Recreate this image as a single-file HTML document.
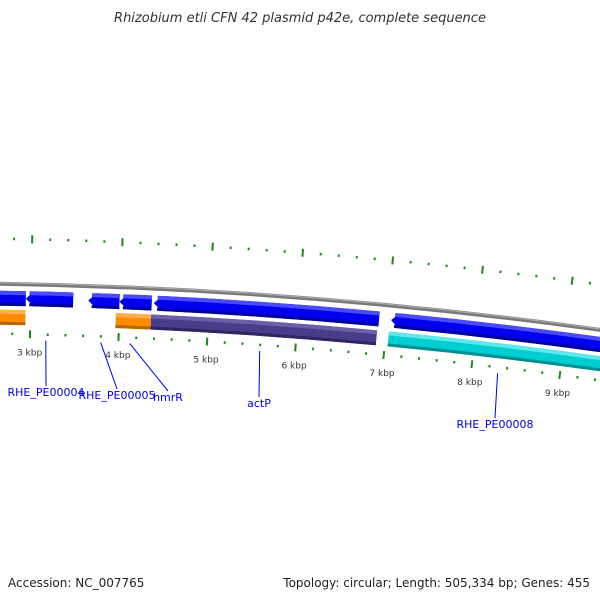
<!DOCTYPE html>
<html><head><meta charset="utf-8">
<style>
html,body{margin:0;padding:0;background:#fff;}
svg{display:block;font-family:"DejaVu Sans","Liberation Sans",sans-serif;}
</style></head>
<body>
<svg id="map" width="600" height="600" viewBox="0 0 600 600">
  <text x="300" y="22" text-anchor="middle" font-size="13" font-style="italic" fill="#333">Rhizobium etli CFN 42 plasmid p42e, complete sequence</text>
  <g id="ticks"></g>
  <g id="backbone"></g>
  <g id="genes"></g>
  <g id="labels"></g>
  <text x="8" y="587" font-size="12" fill="#222">Accession: NC_007765</text>
  <text x="590" y="587" font-size="12" fill="#222" text-anchor="end">Topology: circular; Length: 505,334 bp; Genes: 455</text>
</svg>
<script>
// data
const geneStarts = [2500, 2944, 3644, 3994, 4379, 7045, 2500, 3960, 4356, 7034];
const geneEnds   = [2944, 3475, 3994, 4356, 6910, 9800, 2944, 4356, 6900, 9800];
const geneTracks = [0,0,0,0,0,0,1,1,1,1];
const geneColors = ["blue","blue","blue","blue","blue","blue","orange","orange","purple","cyan"];
const kbpLabels = [3,4,5,6,7,8,9];
const labelNames = ["RHE_PE00004","RHE_PE00005","hmrR","actP","RHE_PE00008"];
const labelBp = [3180, 3800, 4130, 5600, 8300];
const labelTextPos = [[46,396],[117,399],[168,401],[259,407],[495,428]];

const NS="http://www.w3.org/2000/svg";
const cx=-83, cy=5283;
const th3=Math.asin(113/4950), kPer=0.0179/1000;
function ang(bp){return th3+(bp-3000)*kPer;}
function pt(r,bp){const t=ang(bp);return [cx+r*Math.sin(t), cy-r*Math.cos(t)];}
function mk(tag,attrs,parent){const e=document.createElementNS(NS,tag);for(const k in attrs)e.setAttribute(k,attrs[k]);parent.appendChild(e);return e;}

// backbone
const bb=document.getElementById('backbone');
function arcD(r,b1,b2){const a=pt(r,b1),b=pt(r,b2);return `M${a[0]},${a[1]} A${r},${r} 0 0 1 ${b[0]},${b[1]}`;}
const bl=mk('path',{d:arcD(5000,2300,10200),stroke:'#7a7a7a','stroke-width':4,fill:'none'},bb);


const bl2=mk('path',{d:arcD(5001,2300,10200),stroke:'#b0b0b0','stroke-width':1,fill:'none'},bb);



// ticks
const tg=document.getElementById('ticks');
for(let bp=2000;bp<=10400;bp+=200){
  const major=(bp%1000===0);
  [[4950,-1],[5045,1]].forEach(([r,dir])=>{
    const len=major?8:2.5;
    const a=pt(r-len/2,bp),b=pt(r+len/2,bp);
    const l=mk('line',{x1:a[0],y1:a[1],x2:b[0],y2:b[1],stroke:'#1a8a1a','stroke-width':major?2:2},tg);
    
    
  });
}
kbpLabels.forEach(k=>{
  const p=pt(4932,k*1000);
  const t=mk('text',{x:p[0],y:p[1]+3,'font-size':9,fill:'#333','text-anchor':'middle'},tg);
  t.textContent=k+' kbp';
  
  
});

// genes
const palette={blue:['#0000ee','#4a4aff','#00009a'],orange:['#ff8c00','#ffae50','#b86400'],purple:['#483d8b','#6a60a8','#2e2660'],cyan:['#00ced1','#5ee8ea','#008f91']};
const trackR=[[4978,4993],[4959,4974]];
const gg=document.getElementById('genes');
function genePath(r1,r2,b1,b2,arrow){
  const head=arrow?90:0;
  const rm=(r1+r2)/2;
  const s=b1+head;
  const o1=pt(r2,s),o2=pt(r2,b2),i2=pt(r1,b2),i1=pt(r1,s),tip=pt(rm,b1);
  let d=`M${o1[0]},${o1[1]} A${r2},${r2} 0 0 1 ${o2[0]},${o2[1]} L${i2[0]},${i2[1]} A${r1},${r1} 0 0 0 ${i1[0]},${i1[1]}`;
  if(arrow) d+=` L${tip[0]},${tip[1]}`;
  return d+' Z';
}
for(let i=0;i<geneStarts.length;i++){
  const [r1,r2]=trackR[geneTracks[i]];
  const c=palette[geneColors[i]];
  const arrow=geneTracks[i]===0;
  const p=mk('path',{d:genePath(r1,r2,geneStarts[i],geneEnds[i],arrow),fill:c[0]},gg);
  
  
  const h=mk('path',{d:genePath(r2-4,r2,geneStarts[i]+(arrow?40:0),geneEnds[i],false),fill:c[1]},gg);
  
  
  const s=mk('path',{d:genePath(r1,r1+3,geneStarts[i]+(arrow?40:0),geneEnds[i],false),fill:c[2]},gg);
  
  
}

// labels
const lg=document.getElementById('labels');
labelNames.forEach((n,i)=>{
  const a=pt(4944,labelBp[i]);
  const [tx,ty]=labelTextPos[i];
  const l=mk('line',{x1:a[0],y1:a[1],x2:tx,y2:ty-10,stroke:'#0000ee','stroke-width':1},lg);
  
  
  const t=mk('text',{x:tx,y:ty,'font-size':11,fill:'#0000ee','text-anchor':'middle'},lg);
  t.textContent=n;
  
  
});
</script>
</body></html>
